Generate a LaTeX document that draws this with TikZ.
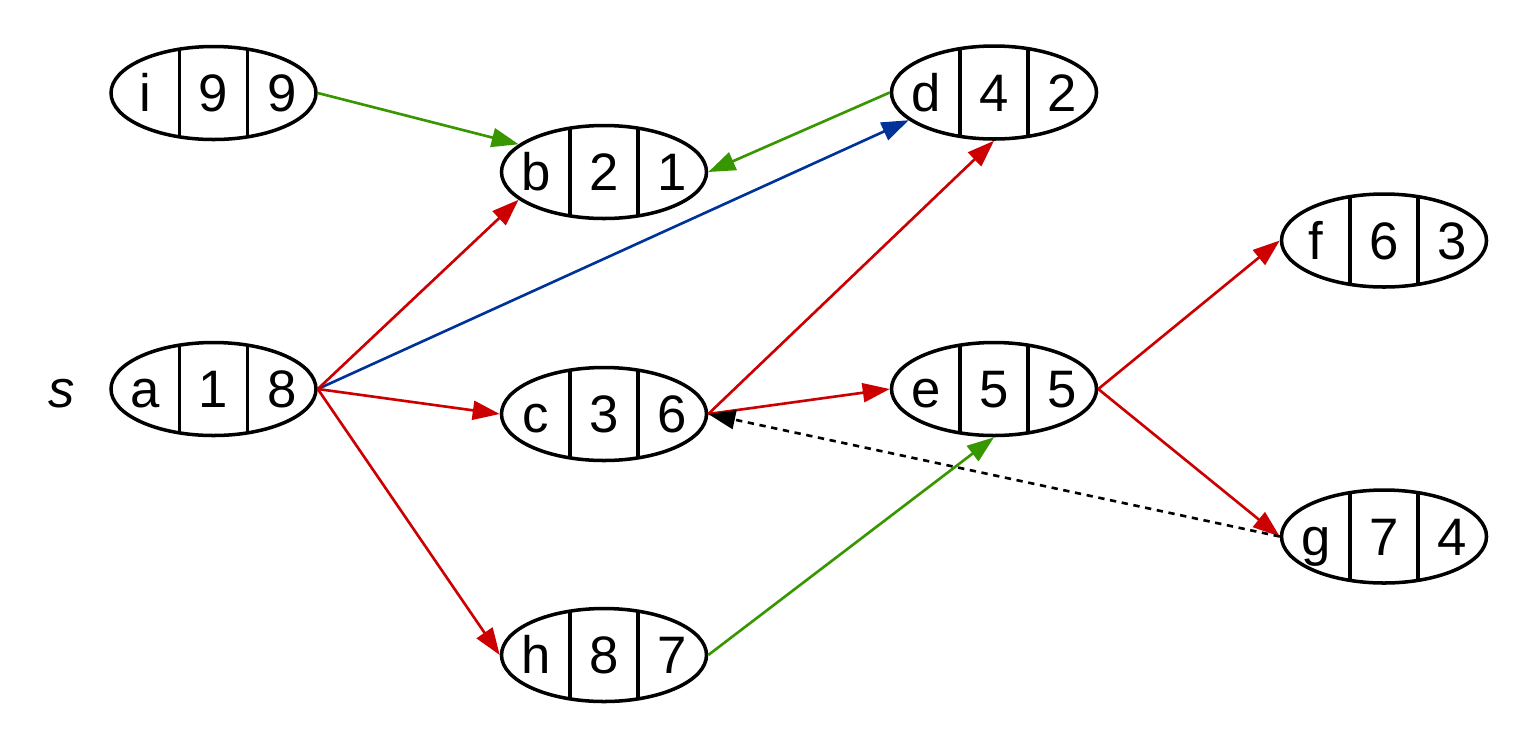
\documentclass[tikz,border=0pt]{standalone}
\usepackage{fontspec}
\setmainfont{Liberation Sans}
\usepackage{tikz}
\usepackage{xcolor}
\usetikzlibrary{
    arrows.meta,
    shapes.geometric,
    calc,
    positioning
}
\definecolor{tred}{RGB}{204,0,0}
\definecolor{tgreen}{RGB}{56,150,0}
\definecolor{tblue}{RGB}{0,51,153}
\newcommand{\trip}[3]{\makebox[0pt]{\makebox[0.683cm]{#1}\makebox[0.683cm]{#2}\makebox[0.683cm]{#3}}}

\begin{document}
\begin{tikzpicture}[
    >={Triangle[length=0.27cm,width=0.19cm]},
    tri/.style={ellipse, draw, line width=1pt, inner sep=0pt,
        minimum width=2.05cm, minimum height=0.93cm,
        text height=0.37cm, text depth=0pt,
        font=\fontsize{15}{18}\selectfont,
        path picture={
            \foreach \dx in {-0.342,0.342}
                \draw[line width=1pt] ([xshift=\dx cm]path picture bounding box.north) -- ([xshift=\dx cm]path picture bounding box.south);
        }}
]
                        \useasboundingbox (0,0) rectangle (15.36,7.49);

                        \node[font=\fontsize{15}{18}\selectfont] (s) at (0.615, 3.55) {\textit{s}};
                        \node[tri] (i) at (2.135, 6.56) {\trip{i}{9}{9}};
                        \node[tri] (a) at (2.135, 3.60) {\trip{a}{1}{8}};
                        \node[tri] (b) at (6.04, 5.77) {\trip{b}{2}{1}};
                        \node[tri] (c) at (6.04, 3.35) {\trip{c}{3}{6}};
                        \node[tri] (h) at (6.04, 0.94) {\trip{h}{8}{7}};
                        \node[tri] (d) at (9.94, 6.565) {\trip{d}{4}{2}};
                        \node[tri] (e) at (9.94, 3.60) {\trip{e}{5}{5}};
                        \node[tri] (f) at (13.84, 5.085) {\trip{f}{6}{3}};
                        \node[tri] (g) at (13.84, 2.125) {\trip{g}{7}{4}};

                        \draw[line width=0.75pt]
                        (i.east) edge[->, tgreen] (b.162)
                        (d.west) edge[->, tgreen] (b.east)
                        (h.east) edge[->, tgreen] (e.south)
                        (a.east) edge[->, tblue] (d.198)
                        (a.east) edge[->, tred] (b.198)
                        (a.east) edge[->, tred] (c.west)
                        (a.east) edge[->, tred] (h.west)
                        (c.east) edge[->, tred] (d.south)
                        (c.east) edge[->, tred] (e.west)
                        (e.east) edge[->, tred] (f.west)
                        (e.east) edge[->, tred] (g.west)
                        (g.west) edge[->, dash pattern=on 1.8pt off 1.6pt] (c.east);
                    \end{tikzpicture}
\end{document}
